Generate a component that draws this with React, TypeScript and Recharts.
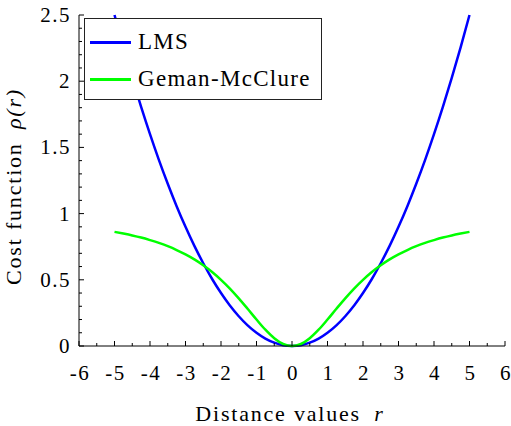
import { LineChart, Line, XAxis, YAxis, Legend } from 'recharts'

// distance values r
const rValues = [
  -5, -4.75, -4.5, -4.25, -4, -3.75, -3.5, -3.25, -3, -2.75, -2.5, -2.25, -2, -1.75, -1.5, -1.25, -1, -0.75, -0.5, -0.25,
  0, 0.25, 0.5, 0.75, 1, 1.25, 1.5, 1.75, 2, 2.25, 2.5, 2.75, 3, 3.25, 3.5, 3.75, 4, 4.25, 4.5, 4.75, 5,
]
const lmsValues = [
  2.5, 2.256, 2.025, 1.806, 1.6, 1.406, 1.225, 1.056, 0.9, 0.756, 0.625, 0.506, 0.4, 0.306, 0.225, 0.156, 0.1, 0.056, 0.025, 0.006,
  0, 0.006, 0.025, 0.056, 0.1, 0.156, 0.225, 0.306, 0.4, 0.506, 0.625, 0.756, 0.9, 1.056, 1.225, 1.406, 1.6, 1.806, 2.025, 2.256, 2.5,
]
const gemanValues = [
  0.862, 0.849, 0.835, 0.819, 0.8, 0.779, 0.754, 0.725, 0.692, 0.654, 0.61, 0.559, 0.5, 0.434, 0.36, 0.281, 0.2, 0.123, 0.059, 0.015,
  0, 0.015, 0.059, 0.123, 0.2, 0.281, 0.36, 0.434, 0.5, 0.559, 0.61, 0.654, 0.692, 0.725, 0.754, 0.779, 0.8, 0.819, 0.835, 0.849, 0.862,
]
const seriesNames = ['LMS', 'Geman-McClure']

const xTicks = [-6, -5.5, -5, -4.5, -4, -3.5, -3, -2.5, -2, -1.5, -1, -0.5, 0, 0.5, 1, 1.5, 2, 2.5, 3, 3.5, 4, 4.5, 5, 5.5, 6]
const yTicks = [
  0, 0.1, 0.2, 0.3, 0.4, 0.5, 0.6, 0.7, 0.8, 0.9, 1, 1.1, 1.2, 1.3, 1.4, 1.5, 1.6, 1.7, 1.8, 1.9, 2, 2.1, 2.2, 2.3, 2.4, 2.5,
]

const data = rValues.map((r, i) => ({ r, lms: lmsValues[i], geman: gemanValues[i] }))

const FONT = '"Liberation Serif", "Times New Roman", serif'

const isMajorX = (v: number) => Number.isInteger(v)
const isMajorY = (v: number) => Math.abs(v * 2 - Math.round(v * 2)) < 1e-6

function XTick(props: any) {
  const { x, y, payload } = props
  const major = isMajorX(payload.value)
  return (
    <g>
      <line x1={x} x2={x} y1={y} y2={y - (major ? 5 : 3)} stroke="#000" />
      {major && (
        <text x={x + 1} y={y + 34} textAnchor="middle" fontSize={21} letterSpacing={1.5} fontFamily={FONT} fill="#000">
          {payload.value}
        </text>
      )}
    </g>
  )
}

function YTick(props: any) {
  const { x, y, payload } = props
  const major = isMajorY(payload.value)
  return (
    <g>
      <line x1={x} x2={x + (major ? 5 : 3)} y1={y} y2={y} stroke="#000" />
      {major && (
        <text x={x - 8} y={y + 7} textAnchor="end" fontSize={21} letterSpacing={1.5} fontFamily={FONT} fill="#000">
          {payload.value}
        </text>
      )}
    </g>
  )
}

function LegendBox({ payload }: any) {
  const items = [...(payload || [])].sort((a: any, b: any) => seriesNames.indexOf(a.value) - seriesNames.indexOf(b.value))
  return (
    <div
      style={{
        width: 238,
        height: 82,
        boxSizing: 'border-box',
        border: '1px solid #222',
        background: '#fff',
        position: 'relative',
        fontFamily: FONT,
        fontSize: 23,
        letterSpacing: 1.3,
      }}
    >
      {items.map((p: any, i: number) => (
        <div key={p.value} style={{ position: 'absolute', left: 5, top: 9 + i * 37, height: 28, display: 'flex', alignItems: 'center' }}>
          <div style={{ width: 41, height: 0, borderTop: `3px solid ${p.color}` }} />
          <span style={{ marginLeft: 7, color: '#000', whiteSpace: 'nowrap' }}>{p.value}</span>
        </div>
      ))}
    </div>
  )
}

export default function App() {
  return (
    <div style={{ position: 'absolute', left: 0, top: 0, background: '#fff' }}>
      <LineChart width={511} height={426} data={data} margin={{ top: 15, right: 6, bottom: 0, left: 0 }}>
        <XAxis
          dataKey="r"
          type="number"
          domain={[-6, 6]}
          ticks={xTicks}
          interval={0}
          tickSize={0}
          tickMargin={0}
          tick={<XTick />}
          height={80}
          axisLine={{ stroke: '#000' }}
          label={(props: any) => {
            const vb = props.viewBox
            return (
              <text x={vb.x + vb.width / 2 - 2} y={vb.y + 75} textAnchor="middle" fontSize={22} letterSpacing={1.8} fontFamily={FONT} fill="#000">
                Distance values <tspan dx={6} fontStyle="italic">r</tspan>
              </text>
            )
          }}
        />
        <YAxis
          type="number"
          domain={[0, 2.5]}
          ticks={yTicks}
          interval={0}
          tickSize={0}
          tickMargin={0}
          tick={<YTick />}
          width={79}
          axisLine={{ stroke: '#000' }}
          label={(props: any) => {
            const vb = props.viewBox
            const cy = vb.y + vb.height / 2 + 6
            return (
              <text x={21} y={cy} transform={`rotate(-90, 21, ${cy})`} textAnchor="middle" fontSize={22} letterSpacing={1.8} fontFamily={FONT} fill="#000">
                Cost function <tspan dx={6} fontStyle="italic">ρ(r)</tspan>
              </text>
            )
          }}
        />
        <Legend
          layout="vertical"
          align="center"
          verticalAlign="middle"
          content={<LegendBox />}
          wrapperStyle={{ left: 84, top: 18, width: 238, height: 82 }}
        />
        <Line dataKey="lms" name={seriesNames[0]} stroke="#0000ff" strokeWidth={2.5} dot={false} type="monotone" isAnimationActive={false} />
        <Line dataKey="geman" name={seriesNames[1]} stroke="#00ff00" strokeWidth={2.5} dot={false} type="monotone" isAnimationActive={false} />
      </LineChart>
    </div>
  )
}
